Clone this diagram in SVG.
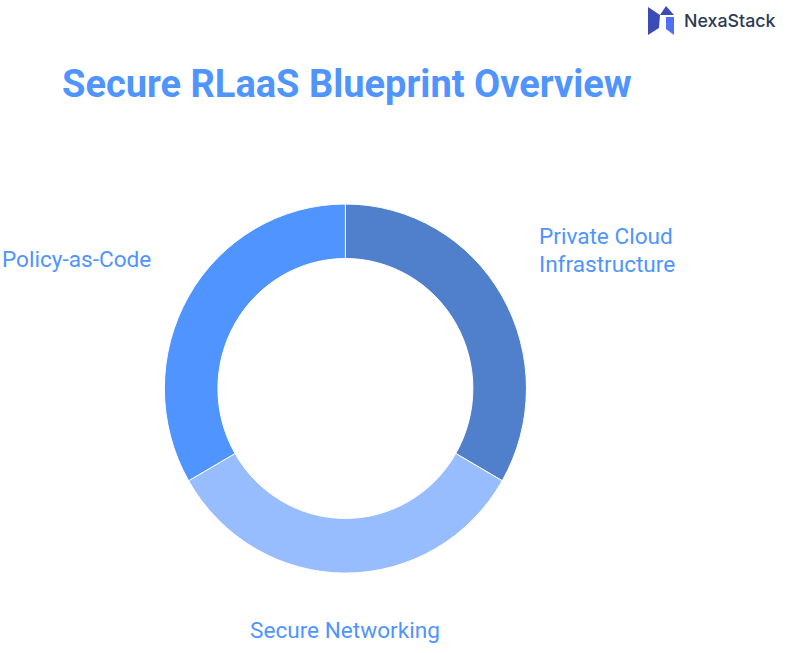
<svg xmlns="http://www.w3.org/2000/svg" width="790" height="653" viewBox="0 0 790 653">
<style>
.l{font-family:Roboto,"Liberation Sans",sans-serif;font-size:22.6px;fill:#4f94ff}
.t{font-family:Roboto,"Liberation Sans",sans-serif;font-size:38px;font-weight:700;fill:#4f94ff}
.b{font-family:Inter,"Liberation Sans",sans-serif;font-size:17.8px;font-weight:500;fill:#2c3a55}
.s{stroke:#fff;stroke-width:1}
</style>
<rect width="790" height="653" fill="#fff"/>
<text id="title" class="t" x="62" y="97">Secure RLaaS Blueprint Overview</text>
<g id="logo">
<polygon points="648,7 660,15 659,28 648,35" fill="#3b4cb8"/>
<polygon points="660,15 666,6 674,15" fill="#3b4cb8"/>
<polygon points="666,17 674,17 674,35 666,29" fill="#4f6ff5"/>
<text class="b" x="684" y="27">NexaStack</text>
</g>
<g id="seg-private-cloud">
<path class="s" fill="#5080cc" d="M345.4 204A181 184.5 0 0 1 502.2 480.75L455.8 453.5A127.5 130 0 0 0 345.4 258.5Z"/>
<text class="l" x="539" y="244">Private Cloud</text>
<text class="l" x="539" y="272">Infrastructure</text>
</g>
<g id="seg-secure-networking">
<path class="s" fill="#98bdff" d="M502.2 480.75A181 184.5 0 0 1 188.6 480.75L235 453.5A127.5 130 0 0 0 455.8 453.5Z"/>
<text class="l" x="250" y="638">Secure Networking</text>
</g>
<g id="seg-policy-as-code">
<path class="s" fill="#4f94ff" d="M188.6 480.75A181 184.5 0 0 1 345.4 204L345.4 258.5A127.5 130 0 0 0 235 453.5Z"/>
<text class="l" x="2" y="267">Policy-as-Code</text>
</g>
<g id="connectors"/>
</svg>
